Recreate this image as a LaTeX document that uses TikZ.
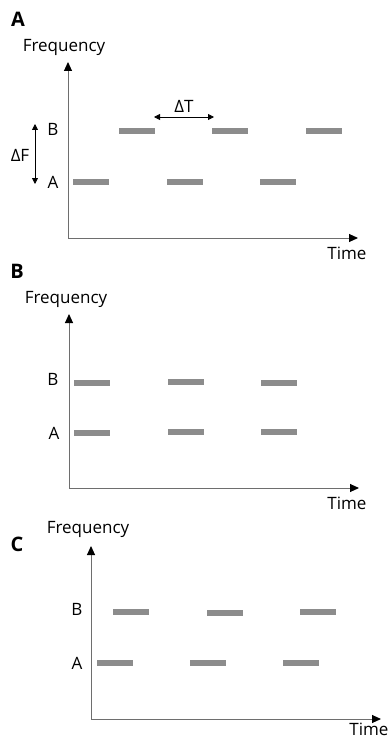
\documentclass[tikz,border=0pt]{standalone}
\usepackage{fontspec}
\setmainfont{Open Sans}
\usetikzlibrary{arrows.meta}
\definecolor{bargray}{RGB}{140,140,140}
\definecolor{axisgray}{RGB}{110,110,110}
\tikzset{
  bar/.style={fill=bargray, draw=none, minimum width=36pt, minimum height=6pt, inner sep=0pt},
  axis/.style={draw=axisgray, line width=1pt, -{Triangle[length=9pt,width=8pt,color=black]}},
  lbl/.style={font=\fontsize{17}{19}\selectfont, inner sep=0pt},
  panel/.style={font=\fontsize{20}{22}\selectfont\bfseries, inner sep=0pt},
  delta/.style={line width=0.8pt, {Triangle[length=6pt,width=6pt]}-{Triangle[length=6pt,width=6pt]}},
}
\begin{document}
\begin{tikzpicture}[x=1pt,y=-1pt]
\useasboundingbox (0,0) rectangle (390,741);
% ---------- Panel A ----------
\node[panel] (pA) at (18,19) {A};
\node[lbl] (fA) at (64,47) {Frequency};
\node[lbl] (tA) at (347,253) {Time};
\coordinate (oA) at (68,238);
\coordinate (yA) at (68,62);
\coordinate (xA) at (358,238);
\draw[axis] (oA) -- (yA);
\draw[axis] (oA) -- (xA);
\node[lbl] (lbA) at (53,129) {B};
\node[lbl] (laA) at (53,182) {A};
\node[bar] (aA1) at (91,182) {};
\node[bar] (aA2) at (184.5,182) {};
\node[bar] (aA3) at (277.5,182) {};
\node[bar] (bA1) at (137,131) {};
\node[bar] (bA2) at (230,131) {};
\node[bar] (bA3) at (324,131) {};
\coordinate (dtL) at (154,117);
\coordinate (dtR) at (214,117);
\draw[delta] (dtL) -- (dtR);
\node[lbl] (dT) at (184,106) {ΔT};
\coordinate (dfT) at (35,124);
\coordinate (dfB) at (35,184);
\draw[delta] (dfT) -- (dfB);
\node[lbl] (dF) at (20,155) {ΔF};
% ---------- Panel B ----------
\node[panel] (pB) at (17,271) {B};
\node[lbl] (fB) at (66,299) {Frequency};
\node[lbl] (tB) at (347,503) {Time};
\coordinate (oB) at (69,488);
\coordinate (yB) at (69,314);
\coordinate (xB) at (359,488);
\draw[axis] (oB) -- (yB);
\draw[axis] (oB) -- (xB);
\node[lbl] (lbB) at (53,379) {B};
\node[lbl] (laB) at (54,433) {A};
\node[bar] (bB1) at (92,383) {};
\node[bar] (bB2) at (185.5,382) {};
\node[bar] (bB3) at (279,383) {};
\node[bar] (aB1) at (92,433) {};
\node[bar] (aB2) at (185.5,432) {};
\node[bar] (aB3) at (279,432) {};
% ---------- Panel C ----------
\node[panel] (pC) at (17,544) {C};
\node[lbl] (fC) at (88,529) {Frequency};
\node[lbl] (tC) at (369,729) {Time};
\coordinate (oC) at (91,719);
\coordinate (yC) at (91,546);
\coordinate (xC) at (381,719);
\draw[axis] (oC) -- (yC);
\draw[axis] (oC) -- (xC);
\node[lbl] (lbC) at (77,609) {B};
\node[lbl] (laC) at (77,663) {A};
\node[bar] (bC1) at (131,612) {};
\node[bar] (bC2) at (225,613) {};
\node[bar] (bC3) at (318,612) {};
\node[bar] (aC1) at (115,663) {};
\node[bar] (aC2) at (207.5,663) {};
\node[bar] (aC3) at (301,663) {};
\end{tikzpicture}
\end{document}
